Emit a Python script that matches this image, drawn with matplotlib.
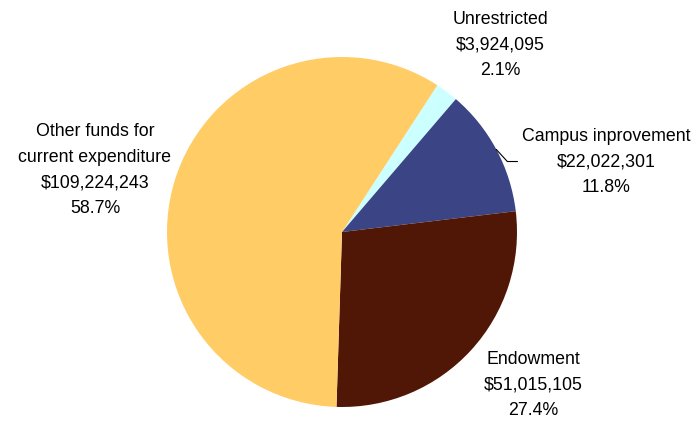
import matplotlib.pyplot as plt
import numpy as np

plt.rcParams['font.family'] = ['Liberation Sans', 'DejaVu Sans']

labels = ['Unrestricted', 'Campus inprovement', 'Endowment',
          'Other funds for\ncurrent expenditure']
amounts = [3924095, 22022301, 51015105, 109224243]
colors = ['#CCFFFF', '#3B4484', '#511706', '#FFCC66']

fig = plt.figure(figsize=(6.95, 4.23), dpi=100)
ax = fig.add_axes([0, 0, 1, 1])

total = sum(amounts)
cx, cy, r = 342, 191, 175
wedges, _ = ax.pie(amounts, colors=colors, startangle=57, counterclock=False,
                   radius=r, center=(cx, cy), frame=True)
ax.set_xlim(0, 695)
ax.set_ylim(0, 423)
ax.axis('off')

# label positions in pixels (x, y from top)
label_pos = [(500, 45), (606, 162), (533, 385), (95, 170)]
for lab, amt, (lx, ly) in zip(labels, amounts, label_pos):
    txt = f'{lab}\n${amt:,}\n{amt / total * 100:.1f}%'
    ax.text(lx, 423 - ly, txt, ha='center', va='center', fontsize=12.8,
            linespacing=1.68, color='black')

# leader line for campus improvement
w = wedges[1]
ang = np.deg2rad((w.theta1 + w.theta2) / 2)
ex, ey = cx + r * np.cos(ang), cy + r * np.sin(ang)
ax.plot([ex, ex + 11, ex + 21], [ey, ey - 12, ey - 12], color='black', lw=0.8)

fig.savefig('out.png', dpi=100)
